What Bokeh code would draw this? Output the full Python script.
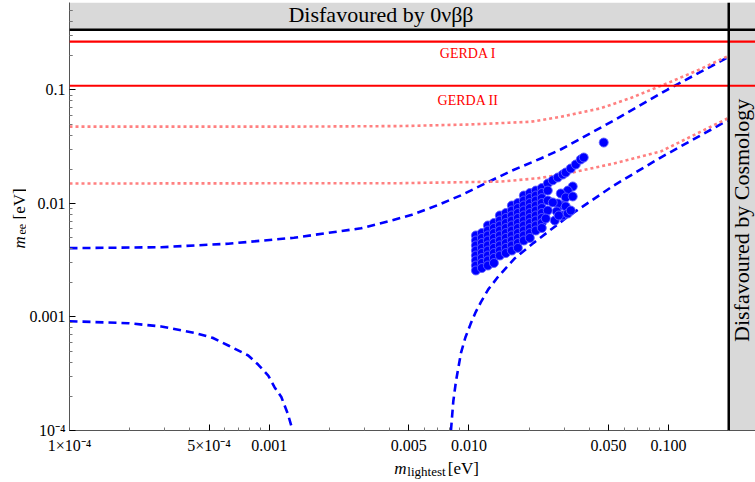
import math
from bokeh.plotting import figure
from bokeh.layouts import row, column
from bokeh.models import Range1d, FixedTicker, CustomJSTickFormatter, Span, BoxAnnotation
from bokeh.core.properties import value
from bokeh.embed import file_html
from bokeh.resources import INLINE

# ---------------- data ----------------
# normal hierarchy, upper boundary (blue dashed)
nh_max_x = [1.0e-4, 2.88e-4, 6.24e-4, 1.33e-3, 2.88e-3, 4.0e-3, 5.13e-3, 7.0e-3, 9.12e-3, 0.0162, 0.0229, 0.0288, 0.0531, 0.0989, 0.197]
nh_max_y = [0.00404, 0.00412, 0.00442, 0.00499, 0.00605, 0.0070, 0.0079, 0.0097, 0.0118, 0.0193, 0.0249, 0.0299, 0.0538, 0.101, 0.193]

# normal hierarchy, lower boundary, left branch (blue dashed)
nh_minL_x = [1.0e-4, 1.97e-4, 2.88e-4, 4.22e-4, 5.2e-4, 6.24e-4, 7.85e-4, 8.8e-4, 9.89e-4, 1.063e-3, 1.15e-3, 1.24e-3, 1.31e-3]
nh_minL_y = [9.18e-4, 8.82e-4, 8.25e-4, 7.26e-4, 6.56e-4, 5.61e-4, 4.58e-4, 3.81e-4, 3.05e-4, 2.41e-4, 1.97e-4, 1.4e-4, 1.0e-4]

# normal hierarchy, lower boundary, right branch (blue dashed)
nh_minR_x = [8.13e-3, 8.35e-3, 8.61e-3, 9.12e-3, 9.6e-3, 0.0102, 0.0108, 0.0115, 0.0125, 0.01396, 0.017, 0.0211, 0.0313, 0.0531, 0.0912, 0.197]
nh_minR_y = [1.0e-4, 1.8e-4, 2.7e-4, 4.8e-4, 6.6e-4, 8.7e-4, 1.1e-3, 1.36e-3, 1.75e-3, 2.25e-3, 3.3e-3, 4.5e-3, 7.67e-3, 0.0144, 0.0254, 0.0538]

# inverted hierarchy, upper boundary (pink dotted)
ih_max_x = [1.0e-4, 1.45e-3, 4.57e-3, 0.0102, 0.0204, 0.0288, 0.0457, 0.0646, 0.0989, 0.141, 0.197]
ih_max_y = [0.0476, 0.0476, 0.0481, 0.0497, 0.0525, 0.058, 0.069, 0.085, 0.115, 0.150, 0.198]

# inverted hierarchy, lower boundary (pink dotted)
ih_min_x = [1.0e-4, 4.57e-3, 0.01445, 0.0222, 0.0313, 0.0531, 0.0912, 0.197]
ih_min_y = [0.0150, 0.0151, 0.0156, 0.0167, 0.0184, 0.0225, 0.0287, 0.0561]

# scatter of model points
pts_x = (
    [0.01084] * 8 + [0.01161] * 8 + [0.01245] * 9 + [0.01334] * 9 + [0.01429] * 9 +
    [0.01531] * 9 + [0.01641] * 10 + [0.01758] * 10 + [0.01884] * 10 + [0.02018] * 10 +
    [0.02163] * 9 + [0.02317] * 9 +
    [0.02483, 0.0263, 0.02786, 0.02951, 0.03055, 0.03236, 0.03428, 0.03631, 0.03758, 0.04732,
     0.03311, 0.03126, 0.02884, 0.03055, 0.03311, 0.02951, 0.02786, 0.03055, 0.02754, 0.02951,
     0.03126, 0.03236, 0.02692, 0.02818, 0.02483, 0.0263, 0.02483, 0.02427, 0.02483]
)
pts_y = (
    [0.00523, 0.00472, 0.00427, 0.00385, 0.00348, 0.00315, 0.00284, 0.00257] +
    [0.00549, 0.00497, 0.00448, 0.00406, 0.00366, 0.00331, 0.00299, 0.00270] +
    [0.00640, 0.00578, 0.00523, 0.00472, 0.00427, 0.00385, 0.00348, 0.00315, 0.00284] +
    [0.00673, 0.00608, 0.00549, 0.00497, 0.00448, 0.00406, 0.00366, 0.00331, 0.00299] +
    [0.00784, 0.00708, 0.00640, 0.00578, 0.00523, 0.00472, 0.00427, 0.00385, 0.00348] +
    [0.00824, 0.00745, 0.00673, 0.00608, 0.00549, 0.00497, 0.00448, 0.00406, 0.00366] +
    [0.00960, 0.00867, 0.00784, 0.00708, 0.00640, 0.00578, 0.00523, 0.00472, 0.00427, 0.00385] +
    [0.01009, 0.00912, 0.00824, 0.00745, 0.00673, 0.00608, 0.00549, 0.00497, 0.00448, 0.00406] +
    [0.01175, 0.01062, 0.00960, 0.00867, 0.00784, 0.00708, 0.00640, 0.00578, 0.00523, 0.00472] +
    [0.01235, 0.01116, 0.01009, 0.00912, 0.00824, 0.00745, 0.00673, 0.00608, 0.00549, 0.00497] +
    [0.0130, 0.01175, 0.01062, 0.00960, 0.00867, 0.00784, 0.00708, 0.00640, 0.00578] +
    [0.01368, 0.01235, 0.01116, 0.01009, 0.00912, 0.00824, 0.00745, 0.00673, 0.00608] +
    [0.0150, 0.0160, 0.01694, 0.0180, 0.01876, 0.02034, 0.02205, 0.02441, 0.02541, 0.03443,
     0.01413, 0.0130, 0.01225, 0.0113, 0.01153, 0.0096, 0.0100, 0.00942, 0.00851, 0.00784,
     0.00816, 0.00867, 0.00708, 0.00784, 0.01062, 0.01021, 0.00867, 0.00737, 0.0130]
)

# experimental limits
gerda_limits = [0.267, 0.109]
gerda_names = ["GERDA I", "GERDA II"]
gerda_label_y = [0.21, 0.0807]
gerda_label_x = [0.0099, 0.0099]
cosmo_bound = 0.2
onbb_bound = 0.34

# axis ticks
x_major = [1e-4, 5e-4, 1e-3, 5e-3, 1e-2, 5e-2, 1e-1]
x_labels = ["1\u00d710\u207b\u2074", "5\u00d710\u207b\u2074", "0.001", "0.005", "0.010", "0.050", "0.100"]
y_major = [1e-4, 1e-3, 1e-2, 1e-1]
y_labels = ["10\u207b\u2074", "0.001", "0.01", "0.1"]

x_minor = [m * 10.0 ** e for e in range(-4, 0) for m in (2, 3, 4, 6, 7, 8, 9)] + [0.2]
y_minor = [m * 10.0 ** e for e in range(-4, 0) for m in (2, 3, 4, 5, 6, 7, 8, 9)] + [0.2, 0.3, 0.4, 0.5]

SERIF = "Liberation Serif"

# ---------------- main plot ----------------
p = figure(width=729, height=460, x_axis_type="log", y_axis_type="log",
           x_range=Range1d(1e-4, 0.2723), y_range=Range1d(1e-4, 0.590),
           output_backend="svg", toolbar_location=None,
           min_border_left=42, min_border_right=0, min_border_top=2, min_border_bottom=30)
p.grid.visible = False
p.outline_line_color = None

fmt_code = """
for (let i = 0; i < vals.length; i++) {
  if (Math.abs(Math.log10(tick) - Math.log10(vals[i])) < 1e-6) return labs[i];
}
return "";
"""
p.xaxis.ticker = FixedTicker(ticks=x_major, minor_ticks=x_minor)
p.yaxis.ticker = FixedTicker(ticks=y_major, minor_ticks=y_minor)
p.xaxis.formatter = CustomJSTickFormatter(args=dict(vals=x_major, labs=x_labels), code=fmt_code)
p.yaxis.formatter = CustomJSTickFormatter(args=dict(vals=y_major, labs=y_labels), code=fmt_code)

for ax in (p.xaxis, p.yaxis):
    ax.axis_line_color = "#555555"
    ax.axis_line_width = 1
    ax.major_tick_in = 6
    ax.major_tick_out = 0
    ax.minor_tick_in = 3
    ax.minor_tick_out = 0
    ax.major_tick_line_color = "black"
    ax.minor_tick_line_color = "#777777"
    ax.major_label_text_font = SERIF
    ax.major_label_text_font_size = "16px"
    ax.major_label_text_color = "black"
p.xaxis.major_label_standoff = 6
p.yaxis.major_label_standoff = 4

# shaded disfavoured regions
p.add_layout(BoxAnnotation(left=cosmo_bound, fill_color="#d9d9d9", fill_alpha=1.0,
                           line_alpha=0, level="underlay"))
p.add_layout(BoxAnnotation(bottom=onbb_bound, fill_color="#d9d9d9", fill_alpha=1.0,
                           line_alpha=0, level="underlay"))

# curves
dash_blue = dict(line_color="#0000ff", line_width=2.6, line_dash="8 5")
p.line(nh_max_x, nh_max_y, **dash_blue)
p.line(nh_minL_x, nh_minL_y, **dash_blue)
p.line(nh_minR_x, nh_minR_y, **dash_blue)
dot_pink = dict(line_color="#ff8080", line_width=2.6, line_dash="3 3")
p.line(ih_max_x, ih_max_y, **dot_pink)
p.line(ih_min_x, ih_min_y, **dot_pink)

# GERDA limits
for g in gerda_limits:
    p.add_layout(Span(location=g, dimension="width", line_color="#ff0000", line_width=2.2))
p.text(x=gerda_label_x, y=gerda_label_y, text=gerda_names, text_font=value(SERIF),
       text_font_size="14px", text_color="#ff0000", text_align="center", text_baseline="middle")

# bounds
p.add_layout(Span(location=cosmo_bound, dimension="height", line_color="black", line_width=2.5))
p.add_layout(Span(location=onbb_bound, dimension="width", line_color="black", line_width=2.5))

# scatter points
p.scatter(pts_x, pts_y, size=9, fill_color="#0000ff", line_color="#6060ff", line_width=0.9)

# region labels
p.text(x=[0.00363], y=[0.4624], text=["Disfavoured by 0\u03bd\u03b2\u03b2"], text_font=value(SERIF),
       text_font_size="22px", text_color="black", text_align="center", text_baseline="middle")
p.text(x=[0.2317], y=[0.0071], text=["Disfavoured by Cosmology"], text_font=value(SERIF),
       text_font_size="22px", text_color="black", text_align="center", text_baseline="middle",
       angle=math.pi / 2)

# ---------------- axis titles (separate blank panels) ----------------
def blank(w, h):
    f = figure(width=w, height=h, x_range=Range1d(0, w), y_range=Range1d(0, h),
               output_backend="svg", toolbar_location=None,
               x_axis_location=None, y_axis_location=None, min_border=0)
    f.grid.visible = False
    f.outline_line_color = None
    return f

def piece(f, x, y, text, size, italic=False, angle=0.0):
    f.text(x=[x], y=[y], text=[text], text_font=value(SERIF), text_font_size=size,
           text_font_style="italic" if italic else "normal", text_color="black",
           text_align="left", text_baseline="alphabetic", angle=angle)

ylab = blank(26, 460)
piece(ylab, 19, 212, "m", "17px", italic=True, angle=math.pi / 2)
piece(ylab, 21, 226, "ee", "12px", angle=math.pi / 2)
piece(ylab, 19, 241, "[eV]", "17px", angle=math.pi / 2)

xlab = blank(729, 22)
piece(xlab, 345, 14, "m", "17px", italic=True)
piece(xlab, 359, 11, "lightest", "13px")
piece(xlab, 402, 14, "[eV]", "17px")

layout = row(ylab, column(p, xlab))

open("out.html", "w").write(file_html(layout, INLINE))
